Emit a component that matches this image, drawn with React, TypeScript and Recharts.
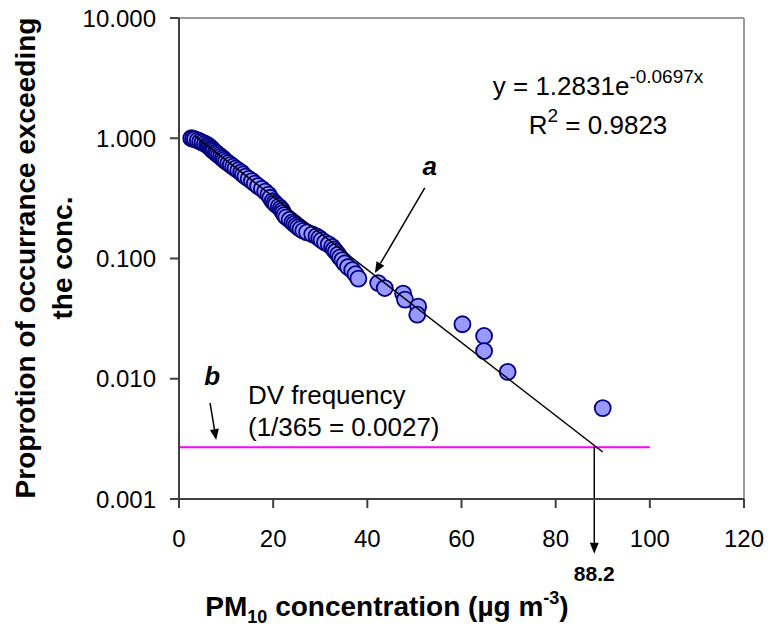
import React from 'react';
import { ScatterChart, Scatter, XAxis, YAxis, ReferenceLine, ReferenceDot } from 'recharts';

// PM10 concentration (µg m-3) of each plotted point
const pm10 = [
  2.6, 3.0, 3.4, 4.0, 4.5, 5.0, 5.5, 6.0, 6.3, 6.6,
  6.9, 7.1, 7.4, 7.8, 8.1, 8.5, 8.9, 9.3, 9.6, 10.0,
  10.5, 11.0, 11.5, 12.0, 12.6, 13.2, 13.6, 14.1, 14.8, 15.5,
  16.1, 16.8, 17.6, 18.3, 19.0, 19.4, 19.9, 20.3, 20.6, 21.2,
  21.6, 21.9, 22.1, 22.4, 22.8, 23.5, 24.1, 24.5, 24.9, 25.3,
  25.8, 26.4, 27.2, 28.3, 29.2, 29.8, 30.3, 31.0, 31.8, 32.5,
  32.9, 33.3, 33.8, 34.2, 34.7, 35.2, 35.9, 36.8, 37.5, 38.1,
  42.3, 43.7, 47.6, 48.0, 50.8, 50.6, 60.2, 64.8, 64.8, 69.8, 90.0
];

// proportion of occurrence exceeding that concentration
const exceed = [
  1.0, 0.99, 0.98, 0.96, 0.94, 0.92, 0.9, 0.88, 0.86, 0.84,
  0.82, 0.8, 0.78, 0.76, 0.74, 0.72, 0.7, 0.68, 0.66, 0.64,
  0.62, 0.6, 0.58, 0.56, 0.54, 0.52, 0.5, 0.48, 0.46, 0.44,
  0.42, 0.4, 0.38, 0.36, 0.34, 0.32, 0.3, 0.29, 0.28, 0.27,
  0.26, 0.25, 0.24, 0.23, 0.22, 0.21, 0.2, 0.194, 0.188, 0.182,
  0.176, 0.17, 0.165, 0.159, 0.153, 0.148, 0.142, 0.136, 0.131, 0.125,
  0.119, 0.114, 0.108, 0.102, 0.097, 0.091, 0.085, 0.08, 0.074, 0.068,
  0.0625, 0.0568, 0.0511, 0.0455, 0.0398, 0.0341, 0.0284, 0.0227, 0.017, 0.0114, 0.0057
];

// exponential trend line ends (straight on the log axis)
const trendX = [3.4, 90];
const trendY = [1.04, 0.00246];

const dvFrequency = 0.0027;
const dvLineEnd = 100;
const dvCrossing = 88.2;

const xTicks = [0, 20, 40, 60, 80, 100, 120];
const yTicks = [0.001, 0.01, 0.1, 1, 10];

const points = pm10.map((x, i) => ({ x, y: exceed[i] }));
const trend = trendX.map((x, i) => ({ x, y: trendY[i] }));

const FONT = 'Arial, "Liberation Sans", Helvetica, sans-serif';
const AXIS = '#404040';

function Dot(props: any) {
  const { cx, cy } = props;
  if (cx == null || cy == null) return <g />;
  return <circle cx={cx} cy={cy} r={8} fill="#9999FF" stroke="#000080" strokeWidth={1.8} />;
}

function arrow(label?: string, labelStyle?: any, dx = 0, dy = 0) {
  return (props: any) => {
    const { x1, y1, x2, y2 } = props;
    const ang = Math.atan2(y2 - y1, x2 - x1);
    const len = 11;
    const w = 4.5;
    const bx = x2 - len * Math.cos(ang);
    const by = y2 - len * Math.sin(ang);
    const px = -Math.sin(ang) * w;
    const py = Math.cos(ang) * w;
    return (
      <g>
        <line x1={x1} y1={y1} x2={bx} y2={by} stroke="#000" strokeWidth={1.5} />
        <polygon points={`${x2},${y2} ${bx + px},${by + py} ${bx - px},${by - py}`} fill="#000" />
        {label && (
          <text x={x1 + dx} y={y1 + dy} textAnchor="middle" fontFamily={FONT} {...labelStyle}>
            {label}
          </text>
        )}
      </g>
    );
  };
}

function XTitle() {
  return (
    <text x={387} y={616} textAnchor="middle" fontFamily={FONT} fontWeight="bold" fontSize={28} fill="#000">
      PM
      <tspan fontSize={18} dy={7}>10</tspan>
      <tspan dy={-7}> concentration (µg m</tspan>
      <tspan fontSize={18} dy={-12}>-3</tspan>
      <tspan dy={12}>)</tspan>
    </text>
  );
}

function YTitle() {
  return (
    <g fontFamily={FONT} fontWeight="bold" fontSize={28} fill="#000">
      <text x={25} y={258} textAnchor="middle" dominantBaseline="central" transform="rotate(-90 25 258)">
        Proprotion of occurrance exceeding
      </text>
      <text x={62} y={258} textAnchor="middle" dominantBaseline="central" transform="rotate(-90 62 258)">
        the conc.
      </text>
    </g>
  );
}

export default function App() {
  return (
    <div style={{ position: 'absolute', left: 0, top: 0, width: 768, height: 626, background: '#fff' }}>
      <ScatterChart width={768} height={626} margin={{ top: 18, right: 24, bottom: 0, left: 0 }}>
        <XAxis
          dataKey="x"
          type="number"
          domain={[0, 120]}
          ticks={xTicks}
          allowDataOverflow
          height={127}
          stroke={AXIS}
          strokeWidth={2}
          tickSize={9}
          tickMargin={22}
          tick={{ fontSize: 24, fill: '#000', fontFamily: FONT }}
          label={{ content: () => <XTitle /> }}
        />
        <YAxis
          dataKey="y"
          type="number"
          scale="log"
          domain={[0.001, 10]}
          ticks={yTicks}
          allowDataOverflow
          width={179}
          stroke={AXIS}
          strokeWidth={2}
          tickSize={9}
          tickMargin={14}
          tickFormatter={(v: number) => v.toFixed(3)}
          tick={{ fontSize: 24, fill: '#000', fontFamily: FONT }}
          label={{ content: () => <YTitle /> }}
        />
        <ReferenceLine y={10} stroke="#9a9a9a" strokeWidth={2} />
        <ReferenceLine x={120} stroke="#9a9a9a" strokeWidth={2} />
        <ReferenceLine
          segment={[{ x: 0, y: dvFrequency }, { x: dvLineEnd, y: dvFrequency }]}
          stroke="#FF00FF"
          strokeWidth={2}
        />
        <Scatter data={points} shape={<Dot />} isAnimationActive={false} />
        <Scatter
          data={trend}
          line={{ stroke: '#000', strokeWidth: 1.5 }}
          shape={() => <g />}
          isAnimationActive={false}
        />
        <ReferenceLine
          segment={[{ x: dvCrossing, y: dvFrequency }, { x: dvCrossing, y: 0.00035 }]}
          ifOverflow="visible"
          shape={arrow('88.2', { fontSize: 21, fontWeight: 'bold', fill: '#000' }, 0, 134)}
        />
        <ReferenceLine
          segment={[{ x: 52.2, y: 0.386 }, { x: 41.6, y: 0.0758 }]}
          shape={arrow('a', { fontSize: 26, fontWeight: 'bold', fontStyle: 'italic', fill: '#000' }, 5, -13)}
        />
        <ReferenceLine
          segment={[{ x: 6.6, y: 0.00628 }, { x: 7.9, y: 0.00309 }]}
          shape={arrow('b', { fontSize: 26, fontWeight: 'bold', fontStyle: 'italic', fill: '#000' }, 2, -18)}
        />
        <ReferenceDot
          x={89}
          y={2.29}
          r={0}
          shape={(p: any) => (
            <text x={p.cx} y={p.cy} textAnchor="middle" fontFamily={FONT} fontSize={26} fill="#000">
              y = 1.2831e
              <tspan fontSize={19} dy={-12}>-0.0697x</tspan>
            </text>
          )}
        />
        <ReferenceDot
          x={89}
          y={1.085}
          r={0}
          shape={(p: any) => (
            <text x={p.cx} y={p.cy} textAnchor="middle" fontFamily={FONT} fontSize={26} fill="#000">
              R
              <tspan fontSize={19} dy={-12}>2</tspan>
              <tspan dy={12}> = 0.9823</tspan>
            </text>
          )}
        />
        <ReferenceDot
          x={14.65}
          y={0.00617}
          r={0}
          shape={(p: any) => (
            <text x={p.cx} y={p.cy} fontFamily={FONT} fontSize={26} fill="#000">
              DV frequency
            </text>
          )}
        />
        <ReferenceDot
          x={14.65}
          y={0.00334}
          r={0}
          shape={(p: any) => (
            <text x={p.cx} y={p.cy} fontFamily={FONT} fontSize={26} fill="#000">
              (1/365 = 0.0027)
            </text>
          )}
        />
      </ScatterChart>
    </div>
  );
}
